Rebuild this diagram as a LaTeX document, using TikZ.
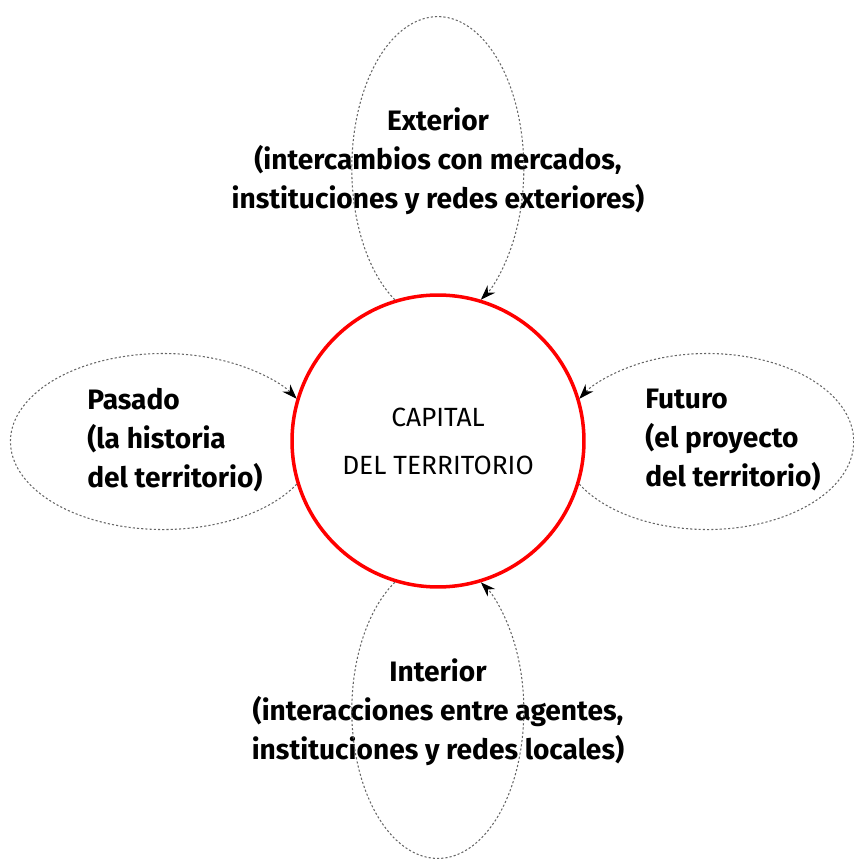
\documentclass[tikz,border=0pt]{standalone}
\usepackage{fontspec}
\setmainfont{Fira Sans}
\usetikzlibrary{arrows.meta}

\begin{document}
\begin{tikzpicture}[x=0.02cm, y=0.02cm,
  lazo/.style={gray!80!black, dash pattern=on 1.2pt off 1.2pt, line width=0.6pt, -{Stealth[length=8.5pt,width=6pt,black]}},
  etiqueta/.style={font=\fontsize{16}{22.2}\selectfont\bfseries, align=center, inner sep=0pt},
  capital/.style={circle, draw=red, line width=2pt, fill=white, minimum size=5.84cm, align=center, font=\fontsize{15}{27.3}\selectfont}]
\useasboundingbox (-438,-418) rectangle (416,441);

\node [capital] (cap) at (0,0) {CAPITAL\\DEL TERRITORIO};

\node [etiqueta] (exterior) at (0,280) {Exterior\\(intercambios con mercados,\\instituciones y redes exteriores)};
\node [etiqueta] (interior) at (0,-271) {Interior\\(interacciones entre agentes,\\instituciones y redes locales)};
\node [etiqueta, anchor=west, align=left] (pasado) at (-351,1) {Pasado\\(la historia\\del territorio)};
\node [etiqueta, anchor=west, align=left] (futuro) at (207,1) {Futuro\\(el proyecto\\del territorio)};

\draw [lazo] (cap.107) arc [start angle=240, end angle=-60, x radius=86, y radius=151.7];
\draw [lazo] (cap.-107) arc [start angle=120, end angle=420, x radius=86, y radius=148];
\draw [lazo] (cap.197) arc [start angle=-29, end angle=-331, x radius=152.7, y radius=88];
\draw [lazo] (cap.-17) arc [start angle=209, end angle=511, x radius=146.4, y radius=88];
\end{tikzpicture}
\end{document}
